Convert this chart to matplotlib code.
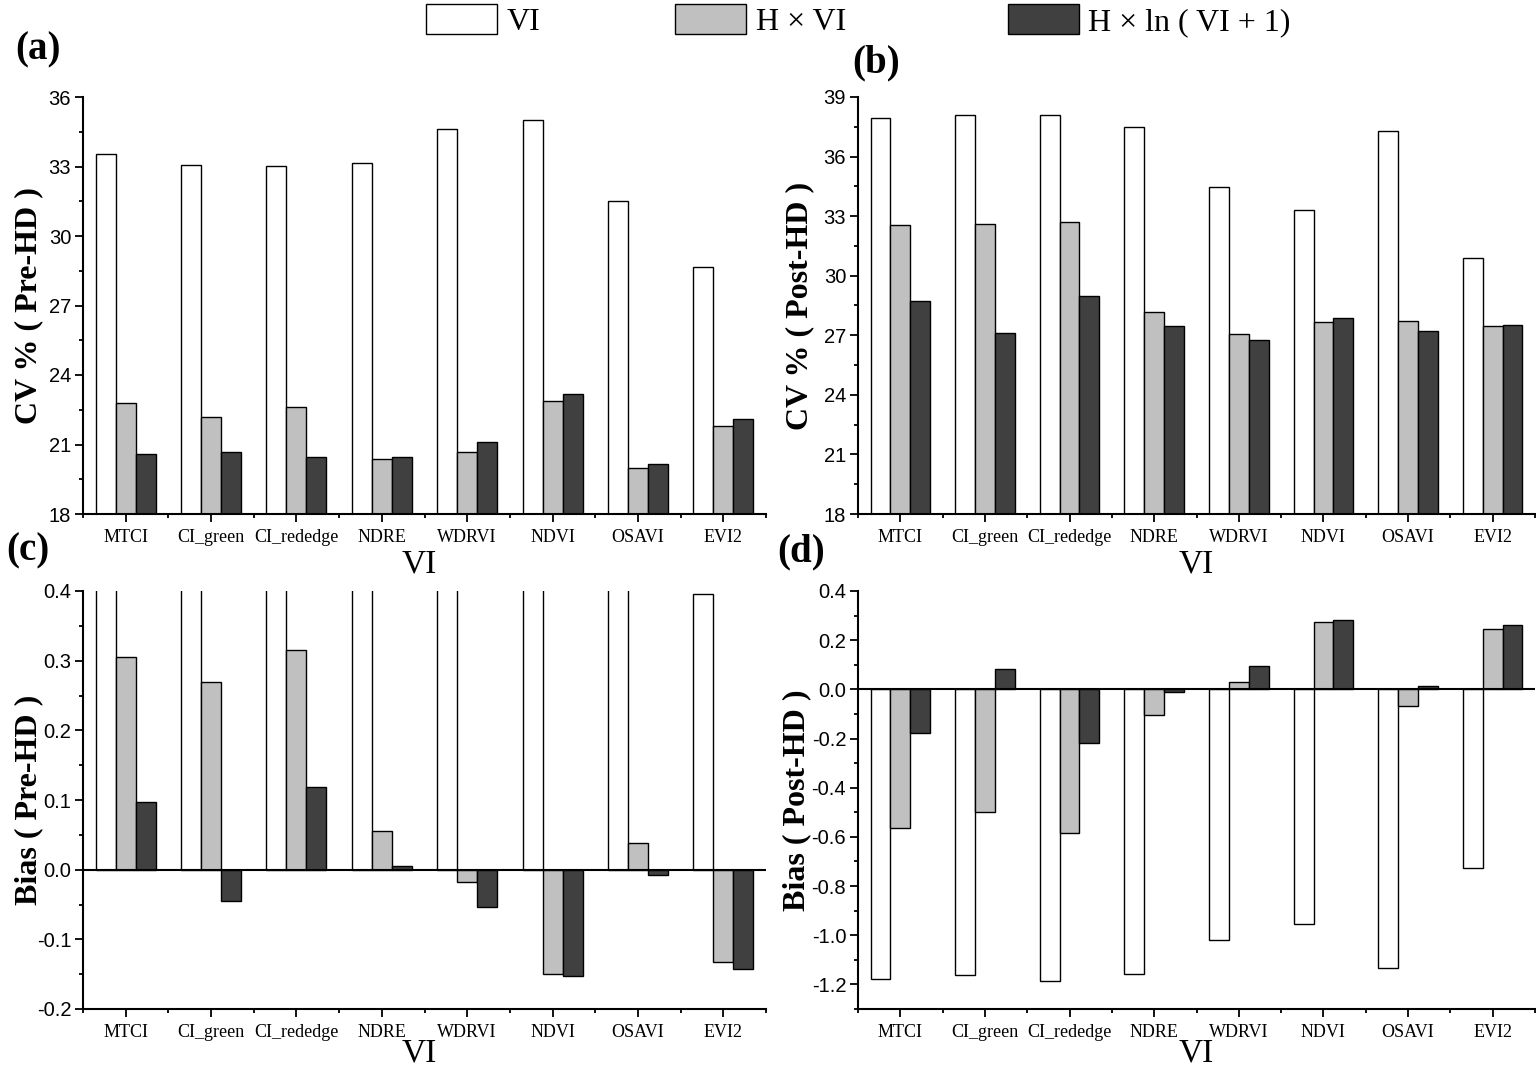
import numpy as np
import matplotlib
matplotlib.use('Agg')
import matplotlib.pyplot as plt
import matplotlib.patches as patch
from matplotlib.ticker import MultipleLocator, FormatStrFormatter

plt.rcParams['axes.unicode_minus'] = False

# data
vis = ['MTCI', 'CI_green', 'CI_rededge', 'NDRE', 'WDRVI', 'NDVI', 'OSAVI', 'EVI2']
series = ['VI', 'H × VI', 'H × ln ( VI + 1)']

cv_pre_vi   = [33.52, 33.06, 33.04, 33.16, 34.63, 35.02, 31.50, 28.68]
cv_pre_hvi  = [22.79, 22.20, 22.60, 20.37, 20.69, 22.86, 20.00, 21.78]
cv_pre_hln  = [20.61, 20.69, 20.48, 20.44, 21.12, 23.16, 20.16, 22.09]

cv_post_vi  = [37.94, 38.08, 38.08, 37.49, 34.48, 33.29, 37.29, 30.89]
cv_post_hvi = [32.55, 32.60, 32.68, 28.19, 27.05, 27.65, 27.74, 27.47]
cv_post_hln = [28.73, 27.10, 29.00, 27.49, 26.76, 27.89, 27.20, 27.52]

# VI bars in (c) run past the top of the axis (except EVI2); their tops are not visible
bias_pre_vi  = [0.60, 0.60, 0.60, 0.60, 0.60, 0.60, 0.60, 0.395]
bias_pre_hvi = [0.305, 0.270, 0.316, 0.056, -0.017, -0.150, 0.038, -0.133]
bias_pre_hln = [0.097, -0.045, 0.119, 0.005, -0.053, -0.153, -0.007, -0.143]

bias_post_vi  = [-1.180, -1.160, -1.187, -1.156, -1.018, -0.953, -1.135, -0.727]
bias_post_hvi = [-0.564, -0.499, -0.583, -0.105, 0.030, 0.275, -0.069, 0.245]
bias_post_hln = [-0.178, 0.083, -0.219, -0.010, 0.097, 0.281, 0.012, 0.262]

colors = ['white', '#c0c0c0', '#404040']

W, H = 1536, 1070
fig = plt.figure(figsize=(W/100, H/100), dpi=100)

serif = ['Liberation Serif', 'DejaVu Serif']
narrow = ['Liberation Sans Narrow', 'Liberation Sans', 'DejaVu Sans']


def px_axes(l, t, r, b):
    return fig.add_axes([l/W, 1 - b/H, (r - l)/W, (b - t)/H])


def draw_panel(ax, data, ylim, major, minor, fmt, ylabel, zero=False):
    x = np.arange(len(vis))
    bw = 0.234
    for i, vals in enumerate(data):
        ax.bar(x + (i - 1)*bw, vals, width=bw, color=colors[i],
               edgecolor='black', linewidth=1.0, zorder=2)
    if zero:
        ax.axhline(0, color='black', lw=1.5, zorder=3)
    ax.set_xlim(-0.5, len(vis) - 0.5)
    ax.set_ylim(*ylim)
    ax.spines['top'].set_visible(False)
    ax.spines['right'].set_visible(False)
    ax.spines['left'].set_linewidth(1.5)
    ax.spines['bottom'].set_linewidth(1.5)
    ax.spines['bottom'].set_zorder(4)

    ax.yaxis.set_major_locator(MultipleLocator(major))
    ax.yaxis.set_minor_locator(MultipleLocator(minor))
    ax.yaxis.set_major_formatter(FormatStrFormatter(fmt))
    ax.set_xticks(x)
    ax.set_xticks(np.arange(-0.5, len(vis)), minor=True)
    ax.set_xticklabels(vis, fontfamily=serif, fontsize=13)
    for lab in ax.get_yticklabels():
        lab.set_fontfamily(narrow)
        lab.set_fontsize(14.5)
    ax.tick_params(axis='both', which='major', direction='out', length=5.5, width=1.3)
    ax.tick_params(axis='both', which='minor', direction='out', length=3, width=1.3)
    ax.tick_params(axis='x', pad=5)
    ax.tick_params(axis='y', pad=3)

    ax.set_ylabel(ylabel, fontfamily=serif, fontsize=23, fontweight='bold')
    ax.set_xlabel('VI', fontfamily=serif, fontsize=24)
    ax.xaxis.label.set_va('center')
    ax.yaxis.label.set_va('center')


ax_a = px_axes(83, 97, 766, 514)
ax_b = px_axes(858, 97, 1535, 514)
ax_c = px_axes(83, 591, 766, 1009)
ax_d = px_axes(858, 591, 1535, 1009)

draw_panel(ax_a, [cv_pre_vi, cv_pre_hvi, cv_pre_hln], (18, 36), 3, 1.5, '%d', 'CV % ( Pre-HD )')
draw_panel(ax_b, [cv_post_vi, cv_post_hvi, cv_post_hln], (18, 39), 3, 1.5, '%d', 'CV % ( Post-HD )')
draw_panel(ax_c, [bias_pre_vi, bias_pre_hvi, bias_pre_hln], (-0.2, 0.4), 0.1, 0.05, '%.1f',
           'Bias ( Pre-HD )', zero=True)
draw_panel(ax_d, [bias_post_vi, bias_post_hvi, bias_post_hln], (-1.3, 0.4), 0.2, 0.1, '%.1f',
           'Bias ( Post-HD )', zero=True)

# label positions (axes coords)
ax_a.yaxis.set_label_coords(-0.08, 0.5)
ax_b.yaxis.set_label_coords(-0.086, 0.5)
ax_c.yaxis.set_label_coords(-0.08, 0.5)
ax_d.yaxis.set_label_coords(-0.09, 0.5)
ax_a.xaxis.set_label_coords(0.493, -0.12)
ax_b.xaxis.set_label_coords(0.499, -0.12)
ax_c.xaxis.set_label_coords(0.493, -0.105)
ax_d.xaxis.set_label_coords(0.499, -0.105)

# panel letters
for s, (px, py) in zip(['(a)', '(b)', '(c)', '(d)'],
                       [(38, 50), (876, 63), (28, 551), (801, 552)]):
    fig.text(px/W, 1 - py/H, s, fontfamily=serif, fontsize=28, fontweight='bold',
             ha='center', va='center')

# legend across the top
leg_x = [426, 675, 1008]
for i in range(3):
    h = patch.Patch(facecolor=colors[i], edgecolor='black', linewidth=1.0)
    fig.legend([h], [series[i]], loc='upper left',
               bbox_to_anchor=(leg_x[i]/W, 1 - 4/H), frameon=False,
               borderpad=0, borderaxespad=0, handlelength=2.22, handleheight=1.07,
               handletextpad=0.3, prop={'family': serif, 'size': 23})

fig.savefig('out.png', dpi=100)
